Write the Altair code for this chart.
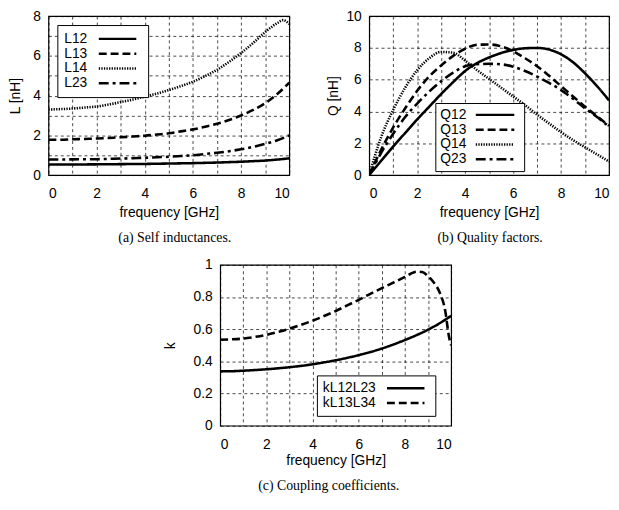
import altair as alt
import pandas as pd

# ---------------- data ----------------
FREQ = [0, 0.5, 1, 1.5, 2, 2.5, 3, 3.5, 4, 4.5, 5, 5.5, 6, 6.5, 7, 7.5, 8, 8.5, 9, 9.5, 10]

# (a) self inductances [nH]
L12 = [0.53, 0.53, 0.53, 0.535, 0.54, 0.545, 0.55, 0.555, 0.56, 0.57, 0.58, 0.59, 0.6, 0.615, 0.63, 0.65, 0.67, 0.7, 0.73, 0.78, 0.84]
L13 = [1.78, 1.78, 1.8, 1.82, 1.84, 1.87, 1.9, 1.94, 1.98, 2.04, 2.1, 2.2, 2.3, 2.43, 2.58, 2.77, 3.0, 3.28, 3.62, 4.08, 4.65]
FREQ_L14 = [0, 0.5, 1, 1.5, 2, 2.5, 3, 3.5, 4, 4.5, 5, 5.5, 6, 6.5, 7, 7.5, 8, 8.5, 9, 9.5, 9.75, 10]
L14 = [3.3, 3.32, 3.35, 3.4, 3.45, 3.55, 3.67, 3.8, 3.95, 4.1, 4.28, 4.48, 4.7, 4.98, 5.3, 5.7, 6.15, 6.65, 7.2, 7.65, 7.8, 7.6]
L23 = [0.78, 0.785, 0.79, 0.795, 0.8, 0.815, 0.83, 0.85, 0.87, 0.895, 0.92, 0.96, 1.0, 1.06, 1.12, 1.2, 1.3, 1.42, 1.57, 1.75, 2.0]

# (b) quality factors
Q12 = [0, 0.9, 1.8, 2.65, 3.5, 4.3, 5.1, 5.85, 6.55, 7.05, 7.4, 7.68, 7.87, 7.98, 8.0, 7.9, 7.6, 7.1, 6.4, 5.6, 4.7]
Q13 = [0, 1.6, 3.0, 4.2, 5.3, 6.2, 6.9, 7.5, 7.95, 8.2, 8.22, 8.1, 7.8, 7.35, 6.85, 6.25, 5.6, 4.95, 4.3, 3.7, 3.1]
Q14 = [0, 2.4, 4.1, 5.5, 6.6, 7.35, 7.75, 7.7, 7.2, 6.6, 6.05, 5.5, 4.95, 4.4, 3.8, 3.25, 2.7, 2.2, 1.75, 1.3, 0.85]
Q23 = [0, 1.4, 2.6, 3.65, 4.5, 5.25, 5.9, 6.45, 6.85, 6.98, 7.0, 6.97, 6.82, 6.55, 6.2, 5.8, 5.35, 4.8, 4.2, 3.65, 3.05]

# (c) coupling coefficients
K1 = [0.338, 0.339, 0.342, 0.346, 0.351, 0.357, 0.364, 0.372, 0.382, 0.394, 0.407, 0.422, 0.439, 0.458, 0.48, 0.505, 0.533, 0.563, 0.597, 0.637, 0.683]
FREQ_K2 = [0, 0.5, 1, 1.5, 2, 2.5, 3, 3.5, 4, 4.5, 5, 5.5, 6, 6.5, 7, 7.5, 8, 8.25, 8.5, 8.75, 9, 9.25, 9.5, 9.75, 9.9, 10]
K2 = [0.535, 0.537, 0.542, 0.552, 0.565, 0.583, 0.603, 0.627, 0.653, 0.682, 0.713, 0.748, 0.783, 0.82, 0.855, 0.89, 0.925, 0.945, 0.958, 0.955, 0.93, 0.89, 0.83, 0.71, 0.56, 0.5]

NAMES_A = ["L12", "L13", "L14", "L23"]
NAMES_B = ["Q12", "Q13", "Q14", "Q23"]
NAMES_C = ["kL12L23", "kL13L34"]

X_GRID = [0, 1, 2, 3, 4, 5, 6, 7, 8, 9, 10]
Y_GRID_A = [0, 1, 2, 3, 4, 5, 6, 7, 8]
Y_GRID_B = [0, 2, 4, 6, 8, 10]
Y_GRID_C = [0, 0.2, 0.4, 0.6, 0.8, 1]

CAPTIONS = ["(a) Self inductances.", "(b) Quality factors.", "(c) Coupling coefficients."]

SANS = "Liberation Sans"
SERIF = "Liberation Serif"
FS = 14

DASH_SOLID = [1, 0]
DASH_DASHED = [8, 4]
DASH_DOTTED = [1.3, 1.3]
DASH_DOTDASH = [10, 4, 3, 4]

# legend sample line drawn to the right of the label (symbol unit = 5 px)
SAMPLE_A = "M5.6,0H13.2"
SAMPLE_B = "M5.8,0H13.6"
SAMPLE_C = "M11.6,0H19.2"


def frame(series):
    rows = []
    for name, xs, ys in series:
        for x, y in zip(xs, ys):
            rows.append({"f": x, "v": y, "s": name})
    return pd.DataFrame(rows)


def panel(df, names, dashes, ydom, yvals, yfmt, ylabel_expr, ytitle, ytitle_x,
          w, h, lx, ly, lpad, sample, caption, cap_dx, xt_y):
    legend = alt.Legend(
        title=None, orient="none", legendX=lx, legendY=ly,
        symbolType=sample, symbolSize=100, symbolStrokeWidth=2.5,
        symbolStrokeColor="black", labelOffset={"expr": "-14"},
        labelAlign="left", labelFont=SANS, labelFontSize=FS, labelColor="black",
        rowPadding=1, padding=lpad, strokeColor="black",
        fillColor="white", cornerRadius=0,
    )
    yaxis_kw = dict(values=yvals, title=ytitle, titleX=ytitle_x, titleY=h / 2,
                    titleBaseline="middle", labelPadding=8)
    if yfmt:
        yaxis_kw["format"] = yfmt
    if ylabel_expr:
        yaxis_kw["labelExpr"] = ylabel_expr
    return alt.Chart(df).mark_line(color="black", strokeWidth=2.6,
                                   interpolate="monotone", clip=True).encode(
        x=alt.X("f:Q", scale=alt.Scale(domain=[0, 10], nice=False),
                axis=alt.Axis(values=X_GRID, title="frequency [GHz]",
                              labelExpr="datum.value % 2 === 0 ? datum.label : ''",
                              titleY=xt_y, titleBaseline="middle", labelPadding=12)),
        y=alt.Y("v:Q", scale=alt.Scale(domain=ydom, nice=False),
                axis=alt.Axis(**yaxis_kw)),
        strokeDash=alt.StrokeDash("s:N", scale=alt.Scale(domain=names, range=dashes),
                                  legend=legend),
    ).properties(
        width=w, height=h,
        title=alt.TitleParams(caption, orient="bottom", anchor="middle", font=SERIF,
                              fontSize=14, fontWeight="normal", color="black",
                              offset=12, dx=cap_dx),
    )


df_a = frame([("L12", FREQ, L12), ("L13", FREQ, L13), ("L14", FREQ_L14, L14), ("L23", FREQ, L23)])
df_b = frame([("Q12", FREQ, Q12), ("Q13", FREQ, Q13), ("Q14", FREQ, Q14), ("Q23", FREQ, Q23)])
df_c = frame([("kL12L23", FREQ, K1), ("kL13L34", FREQ_K2, K2)])

dash4 = [DASH_SOLID, DASH_DASHED, DASH_DOTTED, DASH_DOTDASH]

chart_a = panel(df_a, NAMES_A, dash4, [0, 8], Y_GRID_A, None,
                "datum.value % 2 === 0 ? datum.label : ''", "L [nH]", -33.5,
                244, 161, 9, 9, 7, SAMPLE_A, CAPTIONS[0], 6, 38)
chart_b = panel(df_b, NAMES_B, dash4, [0, 10], Y_GRID_B, None, None, "Q [nH]", -36,
                243, 161, 67, 88, 5, SAMPLE_B, CAPTIONS[1], 1, 38)
chart_c = panel(df_c, NAMES_C, [DASH_SOLID, DASH_DASHED], [0, 1], Y_GRID_C, "~g", None,
                "k", -50, 234, 163, 98, 112, 6, SAMPLE_C, CAPTIONS[2], -7, 35)

spacer = alt.Chart(pd.DataFrame({"u": [0]})).mark_point(opacity=0).encode(
    x=alt.X("u:Q", axis=None), y=alt.Y("u:Q", axis=None)
).properties(width=93, height=10, view=alt.ViewBackground(stroke="transparent"))

row_top = alt.hconcat(chart_a, chart_b, spacing=81, bounds="flush").resolve_scale(
    strokeDash="independent", x="independent", y="independent")
row_bottom = alt.hconcat(spacer, chart_c, spacing=81, bounds="flush").resolve_scale(
    strokeDash="independent", x="independent", y="independent")

chart = alt.vconcat(row_top, row_bottom, spacing=252, bounds="flush").resolve_scale(
    strokeDash="independent", x="independent", y="independent"
).properties(
    autosize=alt.AutoSizeParams(type="none"),
    padding={"left": 41, "top": 5, "right": 570, "bottom": 489},
    background="white",
).configure_view(
    stroke="black", strokeWidth=1.2
).configure_axis(
    labelFont=SANS, labelFontSize=FS, labelColor="black",
    titleFont=SANS, titleFontSize=FS, titleFontWeight="normal", titleColor="black",
    domain=False, ticks=False, grid=True, gridColor="black", gridDash=[3, 3],
    gridWidth=0.8, gridOpacity=0.9,
)

chart.save("out.html", embed_options={"renderer": "svg", "actions": False})
